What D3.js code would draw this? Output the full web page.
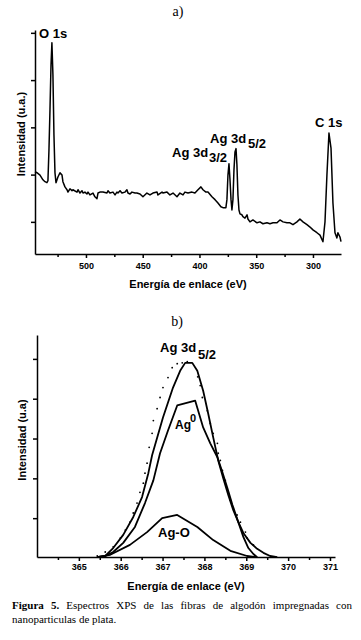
<!DOCTYPE html>
<html>
<head>
<meta charset="utf-8">
<script src="https://cdn.jsdelivr.net/npm/d3@7"></script>
<style>
body{margin:0;background:#fff;}
svg{display:block;}
text{fill:#000;}
</style>
</head>
<body>
<svg id="fig" width="361" height="640"></svg>
<script>
// Panel a) survey spectrum, [binding energy (eV), intensity (a.u.)]
const surveySpectrum = [
  [544.9,2.06],[543.2,2.04],[540.5,1.99],[537.9,1.89],[536.1,1.85],[534.4,1.83],[533.5,1.87],
  [532.6,2.52],[531.7,3.37],[530.8,4.32],[530.0,4.79],[529.1,4.11],[528.2,2.84],[527.3,2.04],
  [526.4,1.83],[524.7,1.95],[522.9,2.04],[521.1,1.99],[520.3,1.85],[518.5,1.74],[516.7,1.68],
  [515.9,1.63],[514.1,1.70],[512.3,1.66],[511.5,1.68],[507.9,1.63],[507.0,1.68],[505.3,1.61],
  [503.5,1.66],[502.6,1.61],[500.9,1.63],[499.1,1.59],[498.2,1.63],[496.5,1.57],[493.8,1.61],
  [492.1,1.53],[490.3,1.49],[489.4,1.61],[487.7,1.63],[485.0,1.63],[481.5,1.61],[480.6,1.66],
  [478.9,1.61],[476.2,1.63],[474.4,1.57],[472.7,1.63],[471.8,1.61],[470.0,1.66],[468.3,1.61],
  [465.6,1.63],[463.9,1.68],[463.0,1.61],[461.2,1.59],[459.5,1.63],[456.8,1.61],[455.1,1.61],
  [452.4,1.59],[449.8,1.53],[446.3,1.61],[443.6,1.57],[441.0,1.61],[437.4,1.63],[436.6,1.57],
  [433.0,1.63],[432.2,1.61],[428.6,1.63],[426.0,1.57],[423.3,1.61],[419.8,1.53],[417.2,1.61],
  [414.5,1.57],[412.8,1.63],[410.1,1.61],[406.6,1.63],[404.0,1.61],[401.3,1.68],[398.7,1.74],
  [396.9,1.68],[394.3,1.63],[392.5,1.63],[389.0,1.53],[386.3,1.47],[383.7,1.40],[381.1,1.32],
  [379.3,1.30],[376.7,1.30],[375.8,1.47],[374.9,1.99],[374.0,2.23],[373.1,1.89],[372.2,1.47],
  [371.4,1.25],[370.5,1.47],[369.6,2.10],[368.7,2.48],[367.8,2.55],[367.0,2.21],[366.1,1.57],
  [365.2,1.25],[364.3,1.17],[362.6,1.15],[361.7,1.11],[359.9,1.08],[358.1,1.15],[357.3,1.06],
  [355.5,1.00],[352.9,1.04],[349.3,0.98],[346.7,1.00],[344.1,0.96],[340.5,0.98],[337.9,0.96],
  [335.2,0.98],[331.7,0.98],[329.1,1.04],[326.4,1.00],[322.9,0.98],[320.3,0.98],[317.6,0.94],
  [314.1,1.00],[311.5,1.06],[308.8,1.00],[305.3,0.94],[302.6,0.89],[300.0,0.83],[296.5,0.77],
  [293.8,0.72],[291.2,0.58],[289.4,1.00],[287.7,1.99],[285.9,2.88],[284.1,2.56],[282.4,1.40],
  [280.6,0.77],[278.9,0.66],[278.0,0.77],[276.2,0.68],[275.3,0.58]
];
const surveyMajorTicks = [500, 450, 400, 350, 300];
const surveyMinorTicks = [525, 475, 425, 375, 325];
const intensityTicks = [1, 2, 3, 4, 5];

// Panel b) Ag 3d5/2 region
const ag3dEnvelope = [
  [365.44,0.02],[365.63,0.05],[365.82,0.25],[366.06,0.58],[366.30,1.03],[366.51,1.53],
  [366.66,2.13],[366.75,2.58],[367.01,3.53],[367.25,4.28],[367.42,4.70],[367.54,4.90],
  [367.71,4.90],[367.83,4.70],[367.97,4.20],[368.09,3.63],[368.21,3.03],[368.33,2.45],
  [368.45,2.00],[368.57,1.58],[368.69,1.20],[368.81,0.90],[368.93,0.63],[369.10,0.38],
  [369.26,0.23],[369.41,0.13],[369.57,0.05],[369.74,0.02]
];
const ag0Component = [
  [365.44,0.02],[365.63,0.05],[365.82,0.15],[366.06,0.38],[366.34,0.78],[366.58,1.38],
  [366.78,1.95],[366.94,2.63],[367.13,3.20],[367.35,3.83],[367.78,3.95],[367.97,3.28],
  [368.14,2.88],[368.31,2.53],[368.43,2.15],[368.55,1.75],[368.67,1.33],[368.81,0.90],
  [368.93,0.53],[369.05,0.25],[369.17,0.10],[369.26,0.02]
];
const agOComponent = [
  [365.44,0.02],[365.75,0.08],[366.22,0.33],[366.63,0.65],[366.99,1.00],[367.35,1.08],
  [367.83,0.78],[368.21,0.45],[368.62,0.18],[369.02,0.05],[369.26,0.02]
];
const ag3dMeasured = [
  [365.44,0.05],[365.63,0.15],[365.82,0.28],[365.99,0.50],[366.11,0.70],[366.22,0.90],
  [366.30,1.13],[366.39,1.38],[366.46,1.65],[366.54,1.88],[366.58,2.13],[366.63,2.38],
  [366.68,2.78],[366.75,3.13],[366.78,3.45],[366.87,3.75],[366.94,4.03],[367.01,4.28],
  [367.13,4.53],[367.23,4.78],[367.35,4.88],[367.47,4.90],[367.59,4.93],[367.84,4.55],
  [367.90,4.33],[367.95,4.03],[368.07,3.70],[368.14,3.38],[368.21,3.13],[368.31,2.88],
  [368.33,2.63],[368.38,2.45],[368.43,2.20],[368.50,1.95],[368.57,1.65],[368.62,1.45],
  [368.69,1.25],[368.78,1.08],[368.86,0.90],[368.98,0.65],[369.02,0.50],[369.17,0.33]
];
const detailMajorTicks = [365, 366, 367, 368, 369, 370, 371];
const detailMinorTicks = [364.5, 365.5, 366.5, 367.5, 368.5, 369.5, 370.5];

const SANS = "Liberation Sans, Arial, sans-serif";
const SERIF = "Liberation Serif, Times New Roman, serif";

let svg = d3.select("#fig");

/* Draws bottom and left axes of one panel */
function drawAxes(x, y, major, minor, pad){
    let g = svg.append("g");
    let bottom = y.range()[0];
    let left = x.range()[0];

    g.append("g")
        .attr("transform", "translate(0," + bottom + ")")
        .call(d3.axisBottom(x).tickValues(minor).tickSize(3).tickSizeOuter(0).tickFormat(""))
        .call(s => s.select(".domain").remove());
    g.append("g")
        .attr("transform", "translate(0," + bottom + ")")
        .call(d3.axisBottom(x).tickValues(major).tickSize(4).tickSizeOuter(0)
              .tickPadding(pad).tickFormat(d3.format("d")));
    g.append("g")
        .attr("transform", "translate(" + left + ",0)")
        .call(d3.axisLeft(y).tickValues(intensityTicks).tickSize(4).tickSizeOuter(0).tickFormat(""));

    g.selectAll("path, line").attr("stroke", "#000").attr("stroke-width", 1.5);
    g.selectAll("g").attr("font-family", SANS);
    g.selectAll("text")
        .style("font-family", SANS)
        .attr("font-size", 9).attr("font-weight", "bold").attr("fill", "#000");
    return g;
}

function label(txt, x, y, size, anchor){
    return svg.append("text").attr("x", x).attr("y", y)
        .style("font-family", SANS)
        .attr("font-size", size).attr("font-weight", "bold")
        .attr("text-anchor", anchor || "start").text(txt);
}

function rotatedLabel(txt, x, y){
    svg.append("text")
        .attr("transform", "translate(" + x + "," + y + ") rotate(-90)")
        .style("font-family", SANS)
        .attr("text-anchor", "middle").attr("font-size", 11).attr("font-weight", "bold")
        .text(txt);
}

function panelTitle(txt, x, y){
    svg.append("text").attr("x", x).attr("y", y).attr("text-anchor", "middle")
        .style("font-family", SERIF).attr("font-size", 14).text(txt);
}

// ---------- panel a ----------
let xA = d3.scaleLinear().domain([544.9, 275.3]).range([35, 341]);
let yA = d3.scaleLinear().domain([0.32, 5.06]).range([254, 30]);
drawAxes(xA, yA, surveyMajorTicks, surveyMinorTicks, 5);

svg.append("path")
    .datum(surveySpectrum)
    .attr("fill", "none").attr("stroke", "#000").attr("stroke-width", 1.5)
    .attr("stroke-linejoin", "round")
    .attr("d", d3.line().x(d => xA(d[0])).y(d => yA(d[1])));

panelTitle("a)", 178, 16);
label("O 1s", 39, 38, 13);
label("C 1s", 315, 127, 13);
label("Ag 3d", 210, 143, 13);
label("5/2", 248, 148, 13);
label("Ag 3d", 172, 157, 13);
label("3/2", 209, 162, 13);
label("Energía de enlace (eV)", 188, 288, 11, "middle");
rotatedLabel("Intensidad (u.a.)", 25, 134);

// ---------- panel b ----------
let xB = d3.scaleLinear().domain([364.0, 371.12]).range([37, 335]);
let yB = d3.scaleLinear().domain([0.025, 5.6]).range([557, 335]);
drawAxes(xB, yB, detailMajorTicks, detailMinorTicks, 3);

let lineB = d3.line().x(d => xB(d[0])).y(d => yB(d[1]));
[ag3dEnvelope, ag0Component, agOComponent].forEach(series => {
    svg.append("path")
        .datum(series)
        .attr("fill", "none").attr("stroke", "#000").attr("stroke-width", 1.8)
        .attr("stroke-linejoin", "round")
        .attr("d", lineB);
});

svg.append("g").selectAll("circle")
    .data(ag3dMeasured)
    .enter()
    .append("circle")
    .attr("cx", d => xB(d[0])).attr("cy", d => yB(d[1]))
    .attr("r", 0.9).attr("fill", "#000");

panelTitle("b)", 177, 326);
label("Ag 3d", 160, 352, 13);
label("5/2", 198, 359, 13);
label("Ag", 175, 429, 12);
label("0", 190, 422, 11);
label("Ag-O", 158, 537, 13);
label("Energía de enlace (eV)", 186, 590, 11, "middle");
rotatedLabel("Intensidad (u.a)", 26, 440);

// ---------- caption ----------
/* Places words on one line, stretched to fill x0..x1 */
function justifyLine(words, x0, x1, y, stretch){
    let t = svg.append("text").attr("y", y)
        .style("font-family", SERIF).attr("font-size", 11);
    let spans = words.map(w => t.append("tspan").attr("font-weight", w.b ? "bold" : "normal").text(w.t));
    let widths = spans.map(s => s.node().getComputedTextLength());
    let gap = stretch ? (x1 - x0 - d3.sum(widths)) / (words.length - 1) : 2.75;
    let x = x0;
    spans.forEach((s, i) => { s.attr("x", x); x += widths[i] + gap; });
}
let captionLine1 = ["Figura", "5."].map(t => ({t: t, b: true}))
    .concat("Espectros XPS de las fibras de algodón impregnadas con".split(" ").map(t => ({t: t})));
let captionLine2 = "nanoparticulas de plata.".split(" ").map(t => ({t: t}));
justifyLine(captionLine1, 12, 352, 609, true);
justifyLine(captionLine2, 12, 352, 623, false);
</script>
</body>
</html>
